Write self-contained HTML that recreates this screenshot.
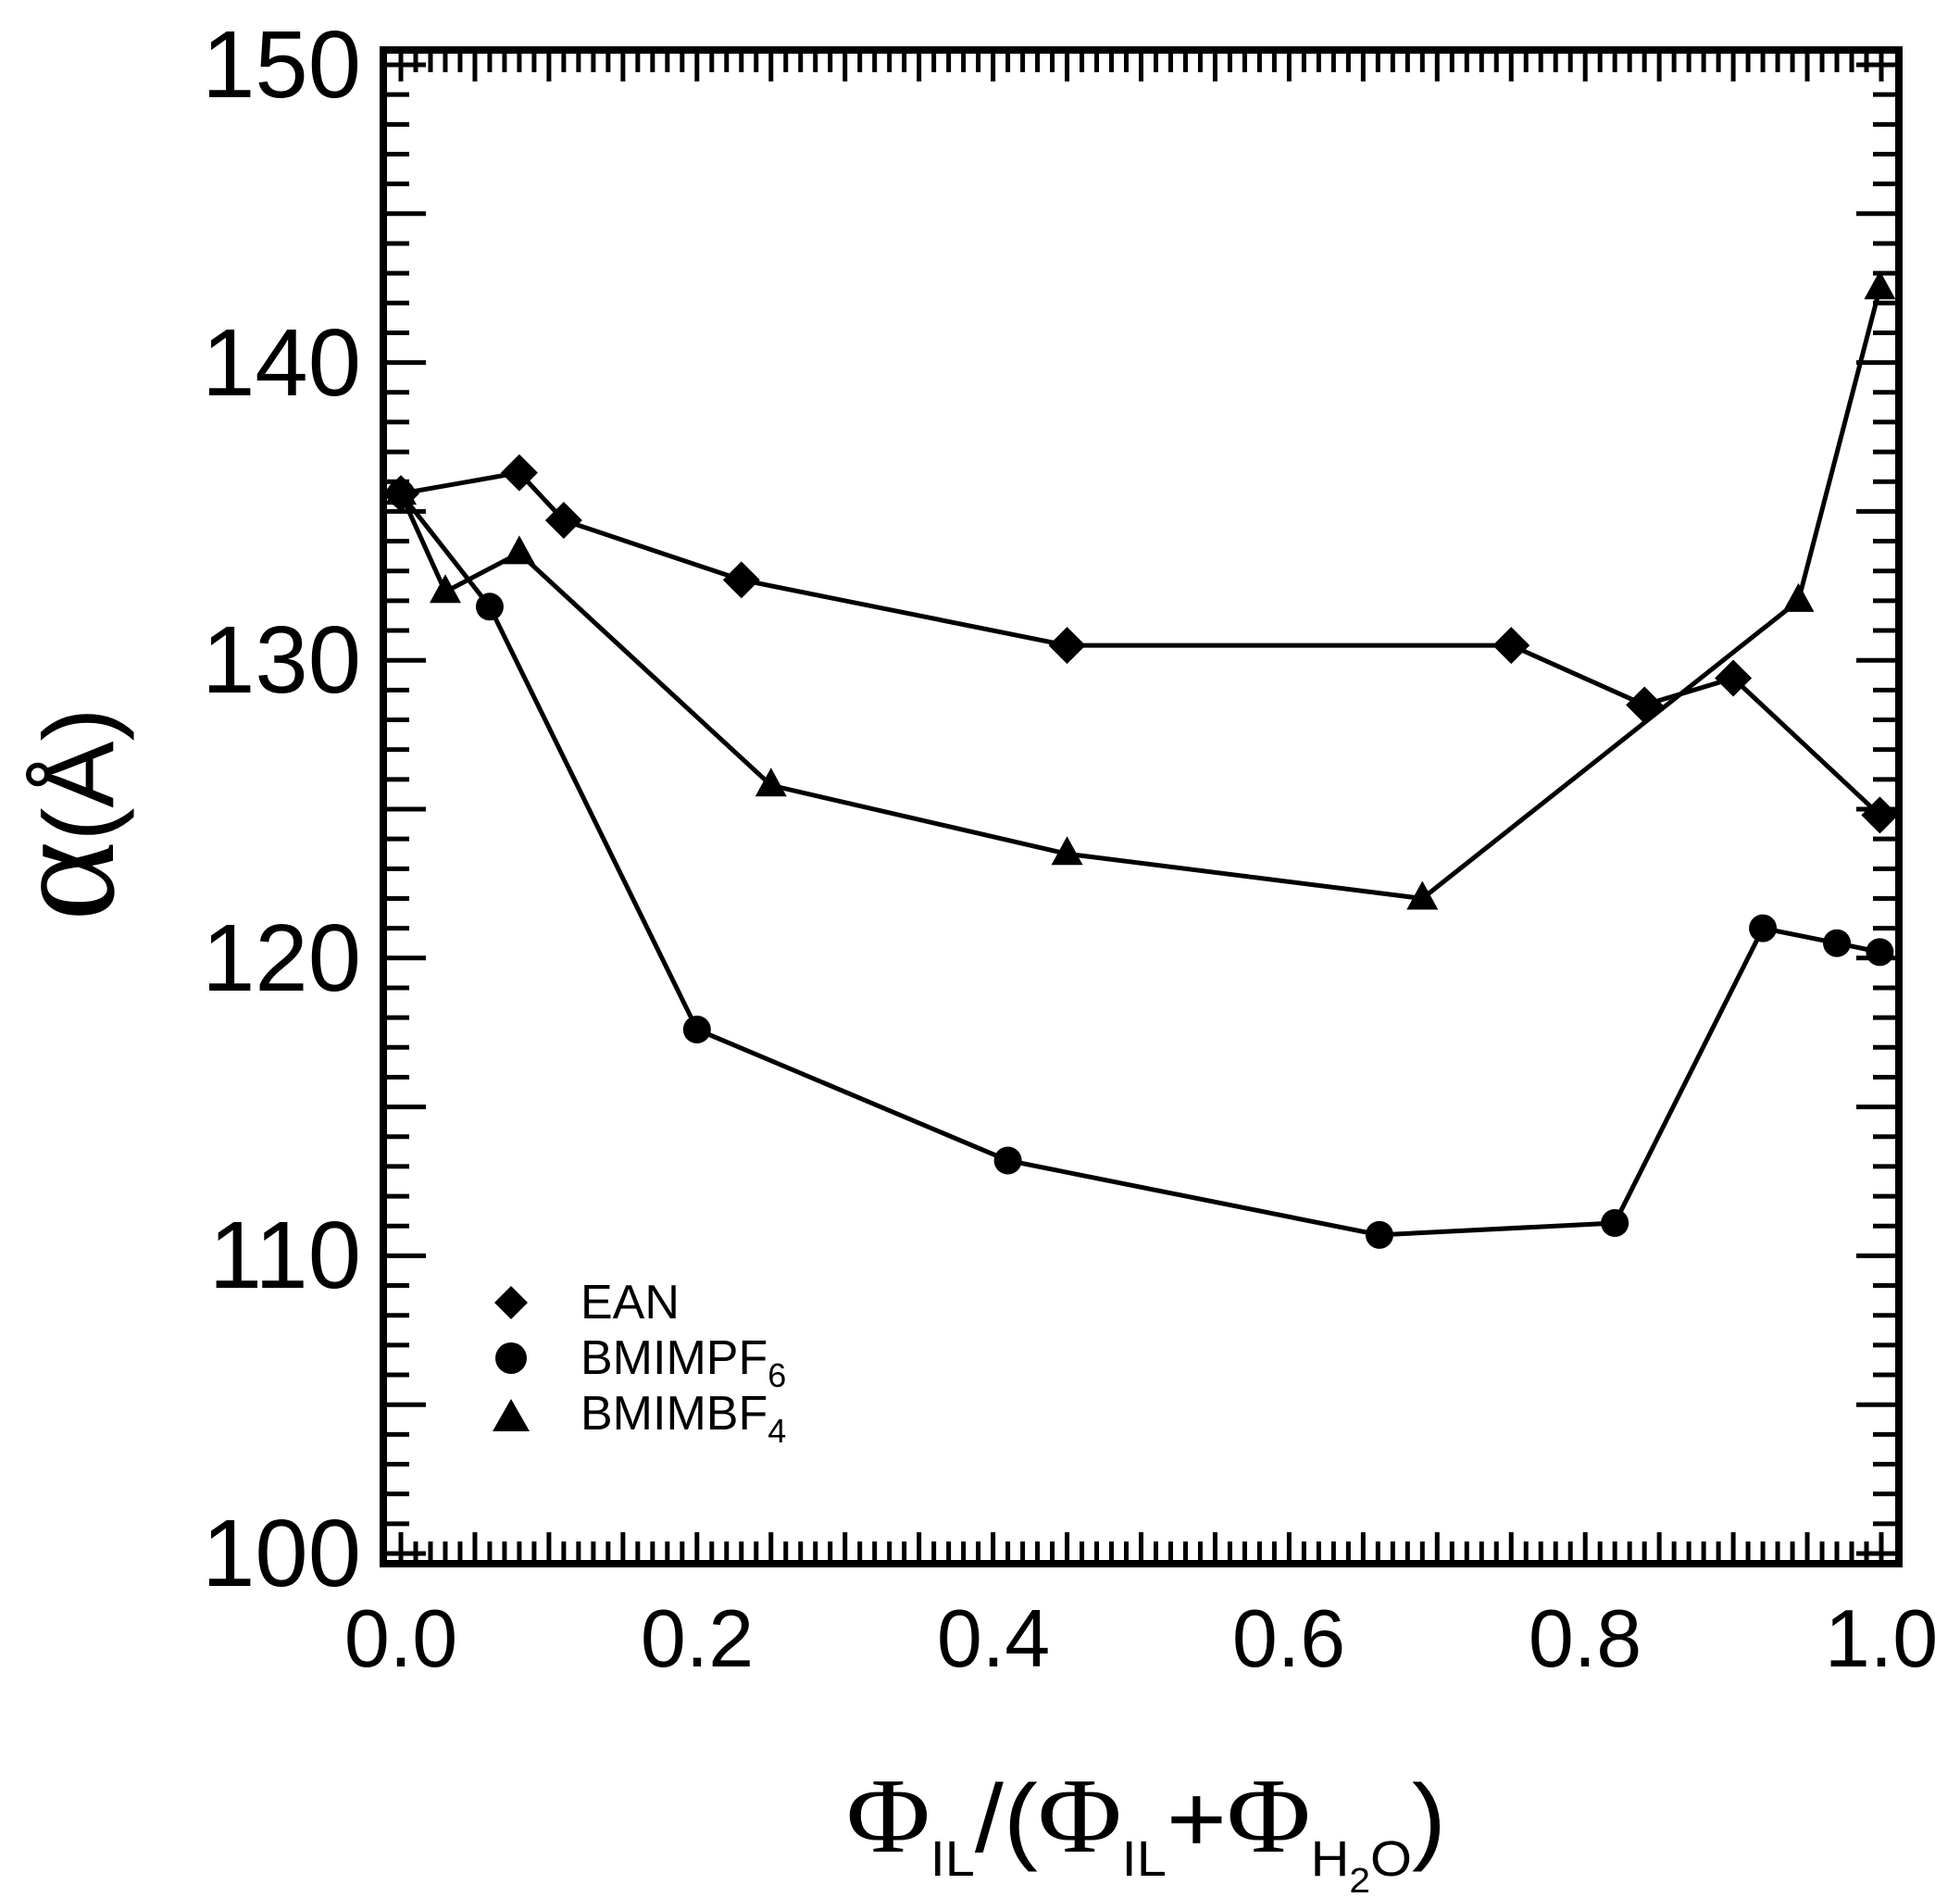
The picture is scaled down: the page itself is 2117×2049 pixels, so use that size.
<!DOCTYPE html>
<html><head><meta charset="utf-8"><style>
html,body{margin:0;padding:0;background:#fff;}
svg{display:block;}
text{font-family:"Liberation Sans",sans-serif;fill:#000;}
</style></head><body>
<svg id="s" width="2117" height="2049" viewBox="0 0 2117 2049" xmlns="http://www.w3.org/2000/svg">
<rect x="0" y="0" width="2117" height="2049" fill="#fff"/>
<g id="ticks" stroke="#000" stroke-width="5"></g>
<rect x="414" y="54" width="1637" height="1635" fill="none" stroke="#000" stroke-width="8"/>
<g id="lines" fill="none" stroke="#000" stroke-width="5"></g>
<g id="marks" fill="#000"></g>
<g font-size="103" text-anchor="end">
<text x="390" y="105">150</text>
<text x="390" y="427">140</text>
<text x="390" y="748">130</text>
<text x="390" y="1070">120</text>
<text x="390" y="1391">110</text>
<text x="390" y="1713">100</text>
</g>
<g font-size="88" text-anchor="middle">
<text x="433" y="1800">0.0</text>
<text x="753" y="1800">0.2</text>
<text x="1073" y="1800">0.4</text>
<text x="1392" y="1800">0.6</text>
<text x="1712" y="1800">0.8</text>
<text x="2032" y="1800">1.0</text>
</g>
<g font-size="52">
<text x="627" y="1424">EAN</text>
<text x="627" y="1484">BMIMPF<tspan font-size="36" dy="14">6</tspan></text>
<text x="627" y="1544">BMIMBF<tspan font-size="36" dy="14">4</tspan></text>
</g>
<path d="M552 1389 L570 1407 L552 1425 L534 1407 Z" fill="#000"/>
<circle cx="552" cy="1467" r="17" fill="#000"/>
<path d="M552 1511 L572 1546 L532 1546 Z" fill="#000"/>
<text transform="translate(122,995) rotate(-90)"><tspan font-family="Liberation Serif,serif" font-size="165">α</tspan><tspan font-size="108">(Å)</tspan></text>
<text x="914" y="2000" textLength="648" lengthAdjust="spacingAndGlyphs"><tspan font-family="Liberation Serif,serif" font-size="116">Φ</tspan><tspan font-size="54" dy="26">IL</tspan><tspan font-size="104" dy="-26">/(</tspan><tspan font-family="Liberation Serif,serif" font-size="116">Φ</tspan><tspan font-size="54" dy="26">IL</tspan><tspan font-size="104" dy="-26">+</tspan><tspan font-family="Liberation Serif,serif" font-size="116">Φ</tspan><tspan font-size="54" dy="26">H</tspan><tspan font-size="38" dy="18">2</tspan><tspan font-size="54" dy="-18">O</tspan><tspan font-size="104" dy="-26">)</tspan></text>
</svg>
<script>
var NS="http://www.w3.org/2000/svg";
function X(x){return 433+1599*x;}
function Y(v){return 1678-(v-100)*32.16;}
function el(p,t,a){var e=document.createElementNS(NS,t);for(var k in a)e.setAttribute(k,a[k]);document.getElementById(p).appendChild(e);return e;}
for(var i=0;i<=101;i++){var x=X(i/100);if(x>2046)break;var L=(i%5==0)?30:20;
el("ticks","line",{x1:x,y1:58,x2:x,y2:58+L});el("ticks","line",{x1:x,y1:1685,x2:x,y2:1685-L});}
for(var v=100;v<=150;v++){var y=Y(v);var L=(v%5==0)?42:24;
el("ticks","line",{x1:418,y1:y,x2:418+L,y2:y});el("ticks","line",{x1:2047,y1:y,x2:2047-L,y2:y});}
var ean=[[0,135.6],[0.08,136.3],[0.11,134.7],[0.23,132.7],[0.45,130.5],[0.75,130.5],[0.84,128.5],[0.90,129.4],[0.999,124.8]];
var pf=[[0,135.6],[0.06,131.8],[0.20,117.6],[0.41,113.2],[0.661,110.7],[0.82,111.1],[0.92,121.0],[0.97,120.5],[0.999,120.2]];
var bf=[[0,135.6],[0.03,132.3],[0.08,133.6],[0.25,125.8],[0.45,123.5],[0.69,122.0],[0.944,132.0],[0.999,142.5]];
[ean,pf,bf].forEach(function(d){el("lines","polyline",{points:d.map(function(p){return X(p[0])+","+Y(p[1]);}).join(" ")});});
ean.forEach(function(p){var x=X(p[0]),y=Y(p[1]);el("marks","path",{d:"M"+x+" "+(y-20)+"L"+(x+20)+" "+y+"L"+x+" "+(y+20)+"L"+(x-20)+" "+y+"Z"});});
pf.forEach(function(p){el("marks","circle",{cx:X(p[0]),cy:Y(p[1]),r:15});});
bf.forEach(function(p){var x=X(p[0]),y=Y(p[1]);el("marks","path",{d:"M"+x+" "+(y-19)+"L"+(x+17)+" "+(y+12)+"L"+(x-17)+" "+(y+12)+"Z"});});
</script>
</body></html>
